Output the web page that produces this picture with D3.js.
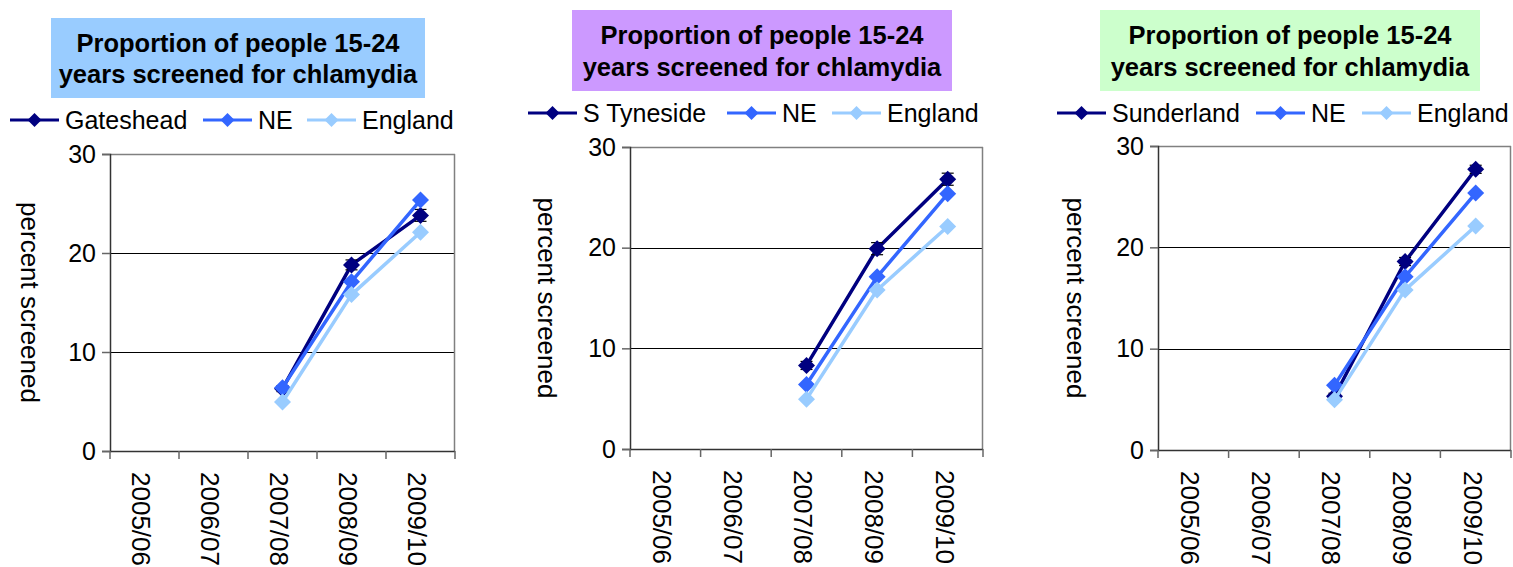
<!DOCTYPE html>
<html>
<head>
<meta charset="utf-8">
<script src="https://cdn.jsdelivr.net/npm/d3@7"></script>
<style>
  html, body { margin: 0; padding: 0; background: #fff; }
  svg { display: block; }
  text { font-family: "Liberation Sans", Arial, sans-serif; }
</style>
</head>
<body>
<svg id="chart" width="1513" height="567"></svg>
<script>
// ---------- DATA ----------
const categories = ["2005/06", "2006/07", "2007/08", "2008/09", "2009/10"];
const yTicks = [0, 10, 20, 30];
const titleLines = ["Proportion of people 15-24", "years screened for chlamydia"];
const yAxisTitle = "percent screened";

const areaNames = ["Gateshead", "S Tyneside", "Sunderland"];
const gatesheadValues  = [null, null, 6.3, 18.8, 23.8];
const sTynesideValues  = [null, null, 8.3, 19.9, 26.8];
const sunderlandValues = [null, null, 5.3, 18.6, 27.7];
const gatesheadErr  = [null, null, 0.3, 0.5, 0.6];
const sTynesideErr  = [null, null, 0.4, 0.6, 0.6];
const sunderlandErr = [null, null, 0.3, 0.4, 0.4];
const neValues      = [null, null, 6.4, 17.1, 25.35];
const englandValues = [null, null, 4.95, 15.8, 22.1];

// ---------- STYLE / LAYOUT ----------
const colLocal = "#000080", colNE = "#3366FF", colEng = "#99CCFF";
const titleFills = ["#99CCFF", "#CC99FF", "#CCFFCC"];
const panels = [
  { name: areaNames[0], values: gatesheadValues, err: gatesheadErr,
    plot: {l: 110, r: 455, t: 154, b: 451},
    box: {x: 51, y: 18, w: 374, h: 80}, titleBase: [51.5, 83],
    legendY: 120, legendX: [10, 203, 307], yLabelX: 30 },
  { name: areaNames[1], values: sTynesideValues, err: sTynesideErr,
    plot: {l: 630, r: 983, t: 147, b: 449},
    box: {x: 572, y: 10, w: 380, h: 81}, titleBase: [43.5, 76],
    legendY: 113, legendX: [528, 727, 832], yLabelX: 547 },
  { name: areaNames[2], values: sunderlandValues, err: sunderlandErr,
    plot: {l: 1158, r: 1511, t: 146, b: 450},
    box: {x: 1100, y: 10, w: 380, h: 81}, titleBase: [43.5, 76],
    legendY: 113, legendX: [1057, 1256, 1362], yLabelX: 1076 }
];
const legendFont = 25;
const tickFont = 25;
const labelFont = 26;

const svg = d3.select("#chart");

function diamond(sel, x, y, r, color) {
  sel.append("path")
    .attr("d", `M${x},${y - r}L${x + r},${y}L${x},${y + r}L${x - r},${y}Z`)
    .attr("fill", color);
}

panels.forEach((p, pi) => {
  const g = svg.append("g");
  const x = d3.scaleBand().domain(categories).range([p.plot.l, p.plot.r]).padding(0);
  const y = d3.scaleLinear().domain([0, 30]).range([p.plot.b, p.plot.t]);

  // title box
  g.append("rect").attr("x", p.box.x).attr("y", p.box.y)
    .attr("width", p.box.w).attr("height", p.box.h).attr("fill", titleFills[pi]);
  titleLines.forEach((line, i) => {
    g.append("text").attr("x", p.box.x + p.box.w / 2).attr("y", p.titleBase[i])
      .attr("text-anchor", "middle").attr("font-weight", "bold")
      .attr("font-size", 25.5).attr("fill", "#000").text(line);
  });

  // legend
  const legendItems = [[p.name, colLocal], ["NE", colNE], ["England", colEng]];
  legendItems.forEach(([label, color], i) => {
    const lx = p.legendX[i];
    g.append("line").attr("x1", lx).attr("x2", lx + 49)
      .attr("y1", p.legendY).attr("y2", p.legendY)
      .attr("stroke", color).attr("stroke-width", 3);
    diamond(g, lx + 24.5, p.legendY, 7, color);
    g.append("text").attr("x", lx + 55).attr("y", p.legendY + 9)
      .attr("font-size", legendFont).attr("fill", "#000").text(label);
  });

  // gridlines
  g.selectAll(".grid").data(yTicks.filter(t => t > 0 && t < 30)).enter()
    .append("line").attr("x1", p.plot.l).attr("x2", p.plot.r)
    .attr("y1", d => Math.round(y(d)) + 0.5).attr("y2", d => Math.round(y(d)) + 0.5)
    .attr("stroke", "#000").attr("stroke-width", 1);

  // frame: top & right gray
  g.append("line").attr("x1", p.plot.l).attr("x2", p.plot.r)
    .attr("y1", p.plot.t + 0.5).attr("y2", p.plot.t + 0.5)
    .attr("stroke", "#808080").attr("stroke-width", 1.5);
  g.append("line").attr("x1", p.plot.r - 0.5).attr("x2", p.plot.r - 0.5)
    .attr("y1", p.plot.t).attr("y2", p.plot.b)
    .attr("stroke", "#808080").attr("stroke-width", 1.5);

  // y axis
  const yAxis = d3.axisLeft(y).tickValues(yTicks).tickSize(8).tickPadding(6).tickFormat(d3.format("d"));
  const ya = g.append("g").attr("transform", `translate(${p.plot.l},0)`).call(yAxis);
  ya.select(".domain").attr("stroke", "#333").attr("stroke-width", 1.5);
  ya.selectAll(".tick line").attr("stroke", "#666").attr("stroke-width", 1.5);
  ya.selectAll(".tick text").attr("font-size", tickFont).attr("fill", "#000")
    .attr("font-family", "Liberation Sans, Arial, sans-serif");

  // x axis (ticks between categories)
  const xa = g.append("g");
  xa.append("line").attr("x1", p.plot.l).attr("x2", p.plot.r)
    .attr("y1", p.plot.b + 0.5).attr("y2", p.plot.b + 0.5)
    .attr("stroke", "#333").attr("stroke-width", 1.5);
  const bounds = categories.map(c => x(c)).concat([x(categories[categories.length - 1]) + x.bandwidth()]);
  xa.selectAll(".xt").data(bounds).enter().append("line")
    .attr("x1", d => d).attr("x2", d => d)
    .attr("y1", p.plot.b).attr("y2", p.plot.b + 8)
    .attr("stroke", "#666").attr("stroke-width", 1.5);
  xa.selectAll(".xl").data(categories).enter().append("text")
    .attr("transform", d => `translate(${x(d) + x.bandwidth() / 2 - 3},${p.plot.b + 21}) rotate(90)`)
    .attr("dy", "0.35em").attr("text-anchor", "start")
    .attr("font-size", labelFont).attr("fill", "#000").text(d => d);

  // y axis title
  g.append("text")
    .attr("transform", `translate(${p.yLabelX},${(p.plot.t + p.plot.b) / 2}) rotate(90)`)
    .attr("dy", "0.35em").attr("text-anchor", "middle")
    .attr("font-size", labelFont).attr("fill", "#000").text(yAxisTitle);

  // series
  const series = [
    { values: p.values, color: colLocal, err: p.err },
    { values: neValues, color: colNE },
    { values: englandValues, color: colEng }
  ];
  const line = d3.line()
    .defined(d => d.v != null)
    .x(d => x(d.c) + x.bandwidth() / 2)
    .y(d => y(d.v));
  series.forEach(s => {
    const pts = categories.map((c, i) => ({ c, v: s.values[i], e: s.err ? s.err[i] : null }));
    g.append("path").datum(pts).attr("d", line)
      .attr("fill", "none").attr("stroke", s.color).attr("stroke-width", 3.5)
      .attr("stroke-linejoin", "round");
    pts.filter(d => d.v != null).forEach(d => {
      const cx = x(d.c) + x.bandwidth() / 2;
      if (d.e != null) {
        const y1 = y(d.v - d.e), y2 = y(d.v + d.e);
        g.append("line").attr("x1", cx).attr("x2", cx).attr("y1", y1).attr("y2", y2)
          .attr("stroke", "#000").attr("stroke-width", 1.2);
        [y1, y2].forEach(yy => g.append("line").attr("x1", cx - 6).attr("x2", cx + 6)
          .attr("y1", yy).attr("y2", yy).attr("stroke", "#000").attr("stroke-width", 1.2));
      }
      diamond(g, cx, y(d.v), 8.5, s.color);
    });
  });
});
</script>
</body>
</html>
